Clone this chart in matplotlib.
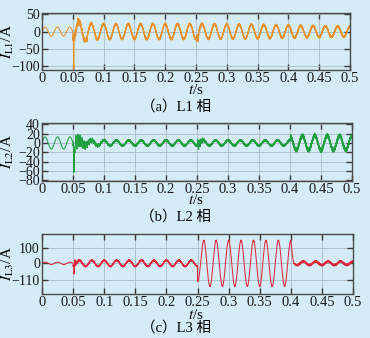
import numpy as np
import matplotlib
matplotlib.use("Agg")
import matplotlib.pyplot as plt

plt.rcParams['font.family'] = ['Liberation Serif', 'Noto Sans CJK SC']
plt.rcParams['mathtext.fontset'] = 'stix'
plt.rcParams['axes.unicode_minus'] = True

# ---------------- data ----------------
x_ticks = [0, 0.05, 0.1, 0.15, 0.2, 0.25, 0.3, 0.35, 0.4, 0.45, 0.5]
x_ticklabels = ['0', '0.05', '0.1', '0.15', '0.2', '0.25', '0.3', '0.35', '0.4', '0.45', '0.5']

# fundamental 50 Hz amplitude envelope knots (time s, amplitude A)
a_env_t = [0.0, 0.0499, 0.05, 0.06, 0.08, 0.10, 0.25, 0.30, 0.35, 0.40, 0.45, 0.50]
a_env_A = [13, 13, 22, 28, 24, 22, 22, 21, 20, 18, 16, 15]
a_rip_t = [0.0, 0.0499, 0.05, 0.10, 0.50]
a_rip_A = [0.0, 0.0, 4.0, 3.0, 3.0]
a_bursts = [(0.0505, 16, 650, 0.012), (0.2505, 10, 700, 0.006)]   # (t0, A, Hz, tau)
a_spikes = [(0.0515, -95), (0.2535, -20), (0.058, 14), (0.073, -12)]  # (t, value)
a_yticks = [50, 0, -50, -100]
a_ylim = (-112, 54)

b_env_t = [0.0, 0.0499, 0.05, 0.10, 0.40, 0.401, 0.45, 0.50]
b_env_A = [13, 13, 5, 6, 6, 15, 16, 15]
b_rip_t = [0.0, 0.0499, 0.05, 0.10, 0.40, 0.401, 0.50]
b_rip_A = [0.0, 0.0, 2.5, 2.0, 2.0, 4.5, 4.5]
b_bursts = [(0.0505, 20, 300, 0.018), (0.2505, 14, 380, 0.006)]
b_spikes = [(0.0515, -78)]
b_yticks = [40, 20, 0, -20, -40, -60, -80]
b_ylim = (-82, 43)

c_env_t = [0.0, 0.0499, 0.05, 0.07, 0.2499, 0.25, 0.26, 0.40, 0.4051, 0.45, 0.50]
c_env_A = [8, 8, 18, 20, 20, 120, 152, 152, 12, 12, 11]
c_rip_t = [0.0, 0.0499, 0.05, 0.2499, 0.25, 0.4051, 0.41, 0.50]
c_rip_A = [0.0, 0.0, 4.0, 4.0, 1.5, 1.5, 6.0, 6.0]
c_bursts = [(0.0505, 14, 500, 0.008)]
c_spikes = [(0.0515, -55), (0.053, 22)]
c_yticks = [100, 0, -110]
c_ylim = (-203, 194)

switch_t = 0.05       # phase reference change of the fundamental
f0 = 50.0

panels = [
    dict(env_t=a_env_t, env_A=a_env_A, rip_t=a_rip_t, rip_A=a_rip_A, bursts=a_bursts,
         spikes=a_spikes, yticks=a_yticks, ylim=a_ylim, color='#e8922e',
         ylabel=r'$I_{\mathrm{L1}}$/A', caption='（a）L1 相',
         rect=[42/370, 1-70/338, 308/370, 57/338], xlab_y=90, cap_y=107),
    dict(env_t=b_env_t, env_A=b_env_A, rip_t=b_rip_t, rip_A=b_rip_A, bursts=b_bursts,
         spikes=b_spikes, yticks=b_yticks, ylim=b_ylim, color='#22a040',
         ylabel=r'$I_{\mathrm{L2}}$/A', caption='（b）L2 相',
         rect=[42/370, 1-181/338, 310/370, 58/338], xlab_y=200, cap_y=217),
    dict(env_t=c_env_t, env_A=c_env_A, rip_t=c_rip_t, rip_A=c_rip_A, bursts=c_bursts,
         spikes=c_spikes, yticks=c_yticks, ylim=c_ylim, color='#e0283c',
         ylabel=r'$I_{\mathrm{L3}}$/A', caption='（c）L3 相',
         rect=[42/370, 1-294/338, 311/370, 60/338], xlab_y=315, cap_y=328),
]

bg = '#d5ebf7'
fig = plt.figure(figsize=(3.70, 3.38), dpi=100, facecolor=bg)

t = np.linspace(0, 0.5, 12001)
w = 2 * np.pi * f0

for p in panels:
    A = np.interp(t, p['env_t'], p['env_A'])
    R = np.interp(t, p['rip_t'], p['rip_A'])
    base = np.where(t < switch_t, np.sin(w * t), np.cos(w * t))
    y = A * base + R * (0.6 * np.sin(2 * np.pi * 2100 * t) + 0.4 * np.sin(2 * np.pi * 3370 * t))
    for (t0, amp, fr, tau) in p['bursts']:
        m = t >= t0
        y[m] += amp * np.exp(-(t[m] - t0) / tau) * np.sin(2 * np.pi * fr * (t[m] - t0))
    for (ts, val) in p['spikes']:
        y += val * np.exp(-((t - ts) / 0.0004) ** 2)

    ax = fig.add_axes(p['rect'], facecolor=bg)
    ax.plot(t, y, color=p['color'], lw=0.75)
    ax.set_xlim(0, 0.5)
    ax.set_ylim(*p['ylim'])
    ax.set_xticks(x_ticks)
    ax.set_xticklabels(x_ticklabels)
    ax.set_yticks(p['yticks'])
    ax.set_yticklabels([str(v).replace('-', '\u2212') for v in p['yticks']])
    ax.grid(True, color='#a9bcc6', lw=0.6)
    ax.set_axisbelow(True)
    ax.tick_params(direction='in', top=True, right=True, length=4, width=1.0,
                   color='#3a3a3a', labelsize=10.5, labelcolor='#1a1a1a', pad=1.5)
    ax.tick_params(axis='y', labelsize=10, pad=1.5)
    for s in ax.spines.values():
        s.set_color('#4a4a4a')
        s.set_linewidth(1.0)
    ax.set_ylabel(p['ylabel'], fontsize=11, labelpad=1)
    ax.yaxis.set_label_coords(-0.085, 0.5)
    fig.text(196/370, 1 - p['xlab_y']/338, r'$t$/s', ha='center', va='center', fontsize=11)
    fig.text(176/370, 1 - p['cap_y']/338, p['caption'], ha='center', va='center', fontsize=10.5)

fig.savefig('out.png', dpi=100, facecolor=bg)
